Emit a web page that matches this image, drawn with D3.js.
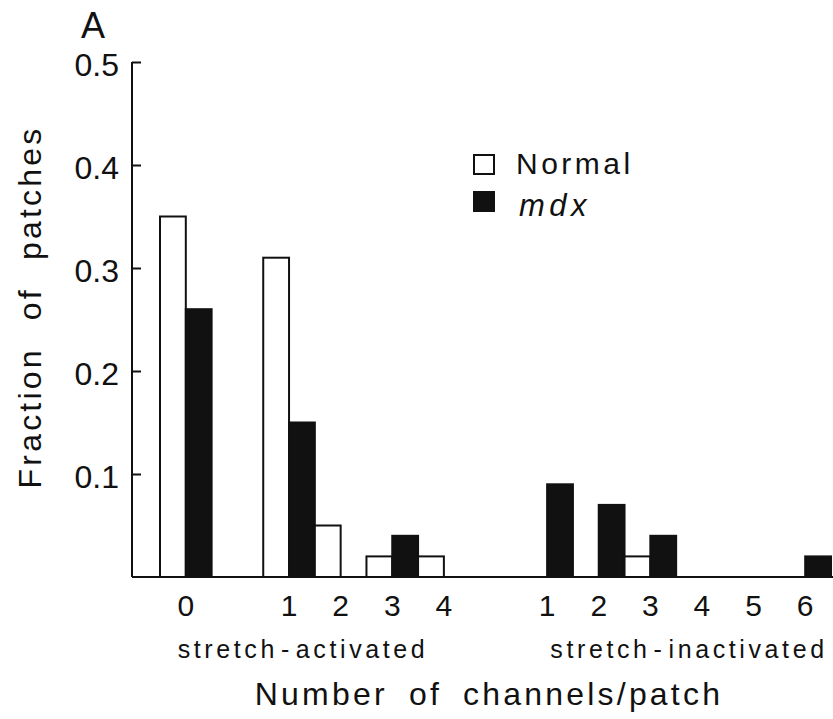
<!DOCTYPE html>
<html>
<head>
<meta charset="utf-8">
<script src="https://cdn.jsdelivr.net/npm/d3@7"></script>
<style>
  html, body { margin: 0; padding: 0; background: #fff; }
  svg { display: block; }
  text { font-family: "Liberation Sans", Arial, sans-serif; fill: #111; }
</style>
</head>
<body>
<svg id="chart" width="833" height="719"></svg>
<script>
// Channel counts per patch, grouped by channel type
const activatedCounts = ["0", "1", "2", "3", "4"];
const inactivatedCounts = ["1", "2", "3", "4", "5", "6"];

// Fraction of patches with each count
const normalActivated   = [0.35, 0.31, 0.05, 0.02, 0.02];
const mdxActivated      = [0.26, 0.15, 0.00, 0.04, 0.00];
const normalInactivated = [0.00, 0.00, 0.02, 0.00, 0.00, 0.00];
const mdxInactivated    = [0.09, 0.07, 0.04, 0.00, 0.00, 0.02];

const yTicks = [0.1, 0.2, 0.3, 0.4, 0.5];
const seriesNames = ["Normal", "mdx"];

// Slots along the x axis: 0, gap, activated 1-4, gap, inactivated 1-6
const slots = [
  { key: "a0", label: "0" },
  { key: "gapA", label: null },
  ...activatedCounts.slice(1).map(c => ({ key: "a" + c, label: c })),
  { key: "gapB", label: null },
  ...inactivatedCounts.map(c => ({ key: "i" + c, label: c }))
];

const rows = [];
activatedCounts.forEach((c, i) => {
  rows.push({ slot: "a" + c, series: "Normal", value: normalActivated[i] });
  rows.push({ slot: "a" + c, series: "mdx", value: mdxActivated[i] });
});
inactivatedCounts.forEach((c, i) => {
  rows.push({ slot: "i" + c, series: "Normal", value: normalInactivated[i] });
  rows.push({ slot: "i" + c, series: "mdx", value: mdxInactivated[i] });
});

const svg = d3.select("#chart");
const ink = "#111";

const x = d3.scaleBand()
  .domain(slots.map(s => s.key))
  .range([160, 831])
  .padding(0);

const y = d3.scaleLinear()
  .domain([0, 0.5])
  .range([577, 62]);

const half = x.bandwidth() / 2;

// Bars: Normal on the left half of each slot, mdx on the right half
svg.append("g")
  .selectAll("rect")
  .data(rows.filter(d => d.value > 0))
  .join("rect")
  .attr("x", d => x(d.slot) + (d.series === "Normal" ? 0 : half))
  .attr("y", d => y(d.value))
  .attr("width", half)
  .attr("height", d => y(0) - y(d.value))
  .attr("fill", d => d.series === "Normal" ? "#fff" : ink)
  .attr("stroke", ink)
  .attr("stroke-width", 2);

// Baseline
svg.append("line")
  .attr("x1", 132).attr("x2", 833)
  .attr("y1", y(0)).attr("y2", y(0))
  .attr("stroke", ink).attr("stroke-width", 2.2);

// Y axis with inward ticks
const yAxis = svg.append("g")
  .attr("transform", "translate(132,0)")
  .call(d3.axisLeft(y)
    .tickValues(yTicks)
    .tickFormat(d3.format(".1f"))
    .tickSize(-9)
    .tickSizeOuter(0)
    .tickPadding(13));
yAxis.select(".domain")
  .attr("d", `M0,${y(0)}V${y(0.5)}`)
  .attr("stroke", ink).attr("stroke-width", 2);
yAxis.selectAll(".tick line").attr("stroke", ink).attr("stroke-width", 2);
yAxis.selectAll(".tick text")
  .attr("font-size", 32)
  .attr("dy", "0.42em")
  .attr("fill", ink)
  .style("font-family", "'Liberation Sans', Arial, sans-serif");

// X axis: count labels at slot centres
const labelled = slots.filter(s => s.label !== null);
const xAxis = svg.append("g")
  .attr("transform", `translate(0,${y(0)})`)
  .call(d3.axisBottom(x)
    .tickValues(labelled.map(s => s.key))
    .tickFormat(k => slots.find(s => s.key === k).label)
    .tickSize(0)
    .tickPadding(18));
xAxis.select(".domain").remove();
xAxis.selectAll(".tick text")
  .attr("font-size", 30)
  .attr("dy", "0.71em")
  .attr("fill", ink)
  .style("font-family", "'Liberation Sans', Arial, sans-serif");

// Group captions under the count labels, hyphen set off with a little space
function caption(cx, first, second) {
  const t = svg.append("text")
    .attr("x", cx).attr("y", 658)
    .attr("text-anchor", "middle")
    .attr("font-size", 25)
    .attr("letter-spacing", 3.6);
  t.append("tspan").text(first);
  t.append("tspan").attr("dx", 3).text("-");
  t.append("tspan").attr("dx", 3).text(second);
}
caption(303, "stretch", "activated");
caption(689, "stretch", "inactivated");

// Axis titles
svg.append("text")
  .attr("x", 489).attr("y", 705)
  .attr("text-anchor", "middle")
  .attr("font-size", 32)
  .attr("letter-spacing", 3.2)
  .attr("word-spacing", 9)
  .text("Number of channels/patch");

svg.append("text")
  .attr("transform", "translate(41,307) rotate(-90)")
  .attr("text-anchor", "middle")
  .attr("font-size", 32)
  .attr("letter-spacing", 3.2)
  .attr("word-spacing", 15)
  .text("Fraction of patches");

// Panel letter
svg.append("text")
  .attr("x", 93).attr("y", 38)
  .attr("text-anchor", "middle")
  .attr("font-size", 36)
  .text("A");

// Legend
const legend = svg.append("g");
seriesNames.forEach((name, i) => {
  const top = i === 0 ? 155 : 192;
  legend.append("rect")
    .attr("x", 474).attr("y", top)
    .attr("width", 20).attr("height", 19)
    .attr("fill", name === "Normal" ? "#fff" : ink)
    .attr("stroke", ink).attr("stroke-width", 2);
  legend.append("text")
    .attr("x", name === "Normal" ? 516 : 519).attr("y", i === 0 ? 174 : 216)
    .attr("font-size", name === "Normal" ? 30 : 31)
    .attr("letter-spacing", name === "Normal" ? 3.5 : 4.5)
    .attr("font-style", name === "mdx" ? "italic" : "normal")
    .text(name);
});
</script>
</body>
</html>
